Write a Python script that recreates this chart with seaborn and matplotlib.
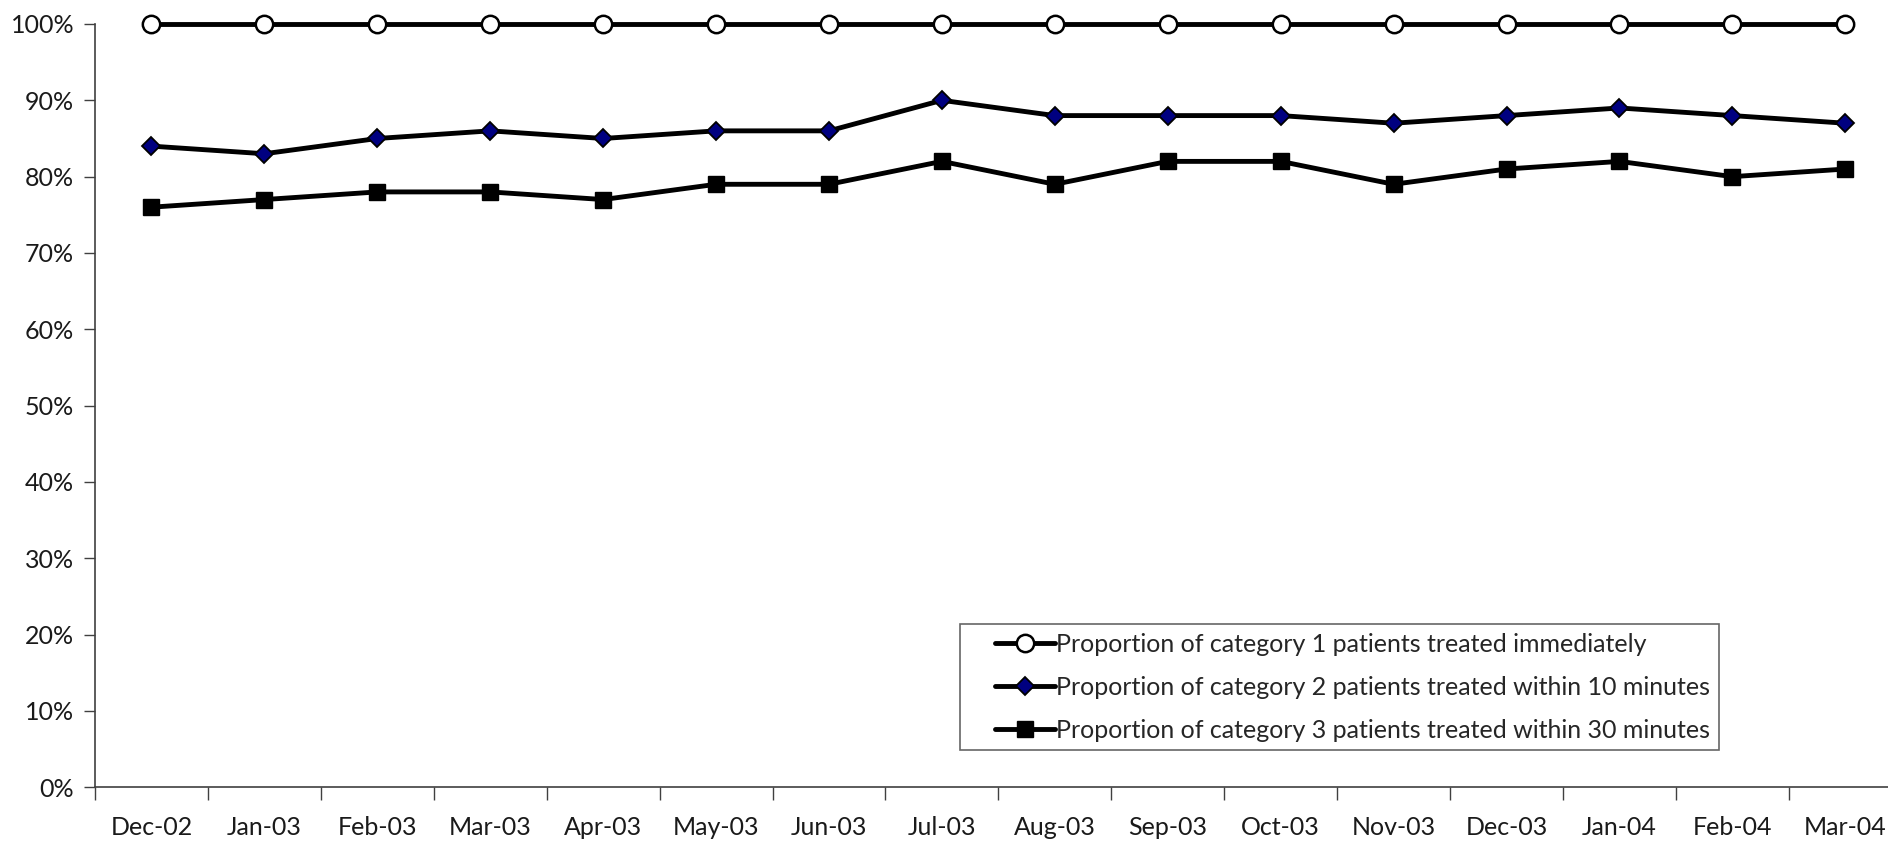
import numpy as np
import pandas as pd
import matplotlib
matplotlib.use("Agg")
import matplotlib.pyplot as plt
import seaborn as sns
from matplotlib.ticker import FixedLocator, NullFormatter
from matplotlib.lines import Line2D
from matplotlib.legend_handler import HandlerLine2D

months = ["Dec-02", "Jan-03", "Feb-03", "Mar-03", "Apr-03", "May-03", "Jun-03", "Jul-03",
          "Aug-03", "Sep-03", "Oct-03", "Nov-03", "Dec-03", "Jan-04", "Feb-04", "Mar-04"]
cat1 = [100, 100, 100, 100, 100, 100, 100, 100, 100, 100, 100, 100, 100, 100, 100, 100]
cat2 = [84, 83, 85, 86, 85, 86, 86, 90, 88, 88, 88, 87, 88, 89, 88, 87]
cat3 = [76, 77, 78, 78, 77, 79, 79, 82, 79, 82, 82, 79, 81, 82, 80, 81]

labels = ["Proportion of category 1 patients treated immediately",
          "Proportion of category 2 patients treated within 10 minutes",
          "Proportion of category 3 patients treated within 30 minutes"]

sns.set_style("white")
plt.rcParams['font.family'] = ['Lato', 'DejaVu Sans']

fig = plt.figure(figsize=(18.88, 8.42), dpi=100)
ax = fig.add_axes([0.0503, 0.065, 0.957, 0.9065])

x = np.arange(len(months))
styles = [
    dict(marker='o', markersize=12.5, markerfacecolor='white', markeredgecolor='black', markeredgewidth=1.8),
    dict(marker='D', markersize=9.5, markerfacecolor='#000080', markeredgecolor='black', markeredgewidth=1.3),
    dict(marker='s', markersize=11, markerfacecolor='black', markeredgecolor='black', markeredgewidth=1),
]
for vals, lab, st in zip([cat1, cat2, cat3], labels, styles):
    df = pd.DataFrame({'x': x, 'y': vals})
    sns.lineplot(data=df, x='x', y='y', ax=ax, color='black', linewidth=3.5, label=lab,
                 clip_on=False, zorder=3, **st)

ax.set_xlim(-0.5, 15.5)
ax.set_ylim(0, 100)
ax.set_yticks(np.arange(0, 101, 10))
ax.set_yticklabels([f"{v}%" for v in range(0, 101, 10)])
ax.xaxis.set_major_locator(FixedLocator(np.arange(-0.5, 16, 1)))
ax.xaxis.set_major_formatter(NullFormatter())
ax.xaxis.set_minor_locator(FixedLocator(x))
ax.set_xticklabels(months, minor=True)
ax.tick_params(axis='x', which='major', direction='out', length=9, width=1, color='#404040', bottom=True)
ax.tick_params(axis='x', which='minor', length=0, pad=21, labelsize=18, labelcolor='#1a1a1a')
ax.tick_params(axis='y', direction='out', length=8, width=1, color='#404040', pad=7, labelsize=18,
               labelcolor='#1a1a1a', left=True)
ax.set_xlabel('')
ax.set_ylabel('')

for s in ['top', 'right']:
    ax.spines[s].set_visible(False)
for s in ['left', 'bottom']:
    ax.spines[s].set_color('#404040')
    ax.spines[s].set_linewidth(1.2)

# shift legend handles right so the box has wider side padding
leg = ax.legend(loc='lower left', bbox_to_anchor=(0.4787, 0.0485), frameon=True, fancybox=False,
                fontsize=18, handlelength=3.45, handletextpad=0.05, borderpad=0.35, labelspacing=0.8,
                borderaxespad=0, handler_map={Line2D: HandlerLine2D(xpad=1.05)})
leg.get_frame().set_edgecolor('#404040')
leg.get_frame().set_linewidth(1.2)

fig.savefig("out.png", dpi=100)
